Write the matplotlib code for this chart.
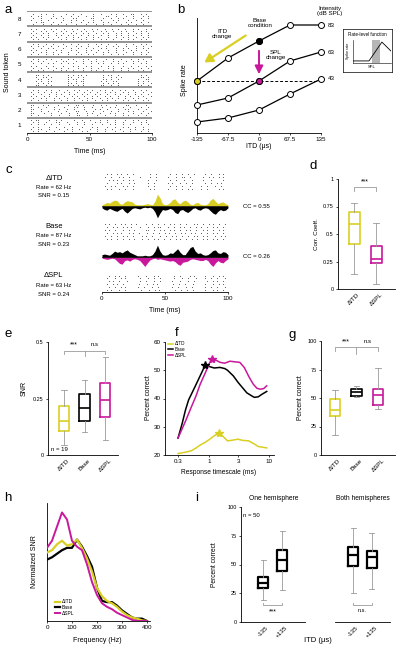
import matplotlib
matplotlib.use("Agg")
import matplotlib.pyplot as plt
import numpy as np
from matplotlib.patches import Rectangle, FancyArrowPatch

plt.rcParams['font.family'] = ['Liberation Sans', 'DejaVu Sans']
plt.rcParams['font.size'] = 4
plt.rcParams['axes.linewidth'] = 0.6
plt.rcParams['xtick.major.width'] = 0.5
plt.rcParams['ytick.major.width'] = 0.5
plt.rcParams['xtick.major.size'] = 1.5
plt.rcParams['ytick.major.size'] = 1.5
plt.rcParams['xtick.major.pad'] = 1.5
plt.rcParams['ytick.major.pad'] = 1.5

YEL = '#d9cf22'
MAG = '#c8189c'
GRAY = '#9a9a9a'
DOT = '#555555'

# ---------------- data ----------------
# a: spike rasters, one list of trials per sound token (token 1 first), '|' = spike
raster_tokens = [
    [".|.||...|..|.|....|..|..|...|..|..|...|..|.|..|..",
     "..|.|..|...||..|...|..|...|.|..|..|..|...|..|.|..",
     ".|..|.|..|..|...|..|..|..|...|..|.|..|..|...|..|.",
     "..|.|...|..|..|..|...|...|.|...|..|..|.|..|..|...",
     ".|..||..|...|..|.|..|...|..|..|..|..|...|.|..|.|.",
     "..|.|..|..|...|..|...|.|...|..|...|..|..|...|..|."],
    [".||...|.|...|...|..||.|...|..|.|...|...||..|...|..",
     ".|..|..|..|...|...||..|..|...|..|.|..|..|...|..|.",
     ".||..|....|.|..|..|...|...|.|..|...|..||...|..|..",
     ".|...|..|...|..|...||..|..|...|..|..|...|.|...|..|",
     ".||...|..|...|..|..|...|.|..|...|.|..|...|..|..|.",
     ".|..|....|..|...|..||..|...|..|...|..|.|...|..|.."],
    ["..|.|..|.|..|..|..|.|..|.|..|.|..|..|.|..|..|.|..",
     ".|..|.|..|.|..|.|..|..|.|..|..|.|.|..|.|..|..|..|",
     "..|..|..|..|.|..|.|..|.|..|.|..|..|.|..|..|.|..|.",
     ".|.|..|.|..|..|..|.|..|..|.|..|.|..|..|.|..|.|..|",
     "..|..|.|..|.|..|..|.|..|.|..|..|.|.|..|..|.|..|..",
     ".|..|..|..|..|.|..|..|.|..|..|.|..|..|.|..|..|.|."],
    ["...||.|.|.......|.|.||.|......|.||..|........|.|..",
     "...|..||.|......||..|.|.......|..|.|.|.......||.|.",
     "....||..|.......|.||..|.......||.|..|.......|..||.",
     "...|.|..||......|..|.||......|.|..||........|.|.|.",
     "....|.|.|.......||.|..|.......|.|.|.|.......|.|..|",
     "...||..|.|......|.|.|.|......||..|..|.......||..|."],
    ["..|.|..|.|...|..|.|...|.|..|...|..|..|...|..|.|..|",
     ".|..|.|....|..||...|..|..|.|..|...|.|..|..|.|..|..",
     "..|..|..|.|..|..|.|...|..|..|.|..|..|.|...|..|.|..",
     ".|.|...|..|...|...|.|..|.|...|..|.|...|..|..|..|.|",
     "..|..|..|..|.|..|...|.|..|..|...|.|..|..|.|..|..|.",
     ".|..|.|...|..|.|..|...|..|.|..|...|..|..|...|.|..|"],
    ["..|.|..|..|...|..|..|...|..|.|..|..|...|..|..|.|..",
     ".|..|.|..|..|..|...|.|..|...|..|..|.|..|...|..|..|",
     "..|..|..|.|...|..|..|..|..|..|.|...|..|.|..|..|.|.",
     ".|.|...|...|.|...|.|...|.|..|...|..|..|..|.|...|..",
     "..|..|.|..|..|..|...|..|...|..|.|..|...|..|..|..|.",
     ".|..|..|..|.|...|..|.|..|.|...|..|..|.|...|..|.|.."],
    [".|.|..|..|.|..|..|.|..|..|.|..|..|.|..|..|.|..|.|",
     "..|..|.|..|..|.|..|..|.|..|..|.|..|..|.|..|..|.|..",
     ".|.|..|.|..|..|..|.|..|.|..|..|.|..|.|..|..|.|..|.",
     "..|..|..|..|.|..|.|..|..|.|..|..|..|.|..|.|..|..|.",
     ".|.|..|.|...|..|..|.|..|..|.|...|..|..|.|..|..|.|.",
     "..|.|..|..|..|.|..|..|.|..|..|.|..|..|..|.|..|.|.."],
    ["..|..|.|..|....|..|..|....|..|...|.|..|..||..|.|..",
     ".|..||....|..|...|..|..|..|....||..|...|..|...|.|.",
     "..|..|...|.|..|...||.....||...|..|..|.|...|..|..|.",
     ".|...|..|.....|..|.|..|...|..|....|.|...|..|..|...",
     "...|.||...|..|...|...|..|.|...|.|..|...|.|...|..|.",
     "..|...|..|..|..|...|...|...|..|..|...|..|..|..|..."],
]
token_ids = [1, 2, 3, 4, 5, 6, 7, 8]

# b: schematic rate-ITD functions
itd_us = [-135, -67.5, 0, 67.5, 135]
rate_83 = [52, 75, 92, 108, 108]
rate_63 = [28, 35, 52, 72, 81]
rate_43 = [11, 15, 23, 39, 54]
level_labels = ['83', '63', '43']
rl_spl = [0.0, 0.42, 0.76, 1.0]
rl_rate = [0.09, 0.09, 0.91, 0.52]

# c: example rasters and PSTH overlays
raster_itd = ["..|.|..|.|..|..|........|..|......|..|..|..|..|.....|..|...|.|..",
              ".|..|...|.|..|.....|....|..|.....|...|..||..|......|..|.|..|.|..",
              "...|.|.|..|..|.|.......|...|......|..|...|...|.....|...|.....|..",
              "..|....|.|...|..|......|..|......|.|...|..|..|......|..|..|.|...",
              ".|..|.|...|.|..|.......|..|.......|..|..|...|.....|..|...|..|...",
              "..|.|...|..|...|........|.|......|...|..|..|.|....|..|.....|.|.."]
raster_base = [".|.|..|..|.|..|..|....|..|..|..|..|.|..|..|...|.|..|..|.|..|..|.",
               "..|..|.|..|.|.|....|...|..|.||...|..|..|.|..|..|..|..|..|.|..|..",
               ".|.|..|...|..|..|.....||..|..|.|..|.|..|..|.|..|...|.|..|..|.|..",
               "..|..|.|.|...|.|..|...|..|..|..|.|..|..|.|..|.|..|..|..|.|..|..",
               ".|..|..|..|.|..|....|.|..|...|..|..|.|..|..|..|.|..|.|...|..|.|.",
               "..|.|..|..|..|..|...|..|..|.|..|..|..|.|..|..|..|..|.|..|.|..|.."]
raster_spl = ["...|..|.|..|......|...|...|.|.......|..|....|.|.....|...|..|.|..",
              "..|...|..|.|.......|...|..|..|......|...|..|...|....|..|..|...|.",
              "...|.|..|...|......|..|...|..|.....|...|...|..|......|..|.|..|..",
              "..|..|.|..|.......|...|..|.|.......|..|..|...|.....|...|..|.|..",
              "...|..|..|.|......|..|...|..|......|..|...|..|......|..|..|...|.",
              "..|.|...|..|.......|...|..|.|.......|..|..|..|.....|...|.|..|.."]
psth_t = np.arange(0, 101, 2)
psth_itd_1 = [.10, .20, .30, .25, .40, .50, .45, .20, .15, .35, .45, .40, .35, .15, .10, .10, .10,
              .15, .20, .15, .10, .40, 1.0, .70, .20, .10, .15, .30, .55, .60, .30, .20, .40, .50,
              .35, .15, .10, .25, .30, .15, .10, .10, .20, .50, .65, .40, .20, .30, .35, .20, .10]
psth_base_1 = [.15, .30, .35, .20, .30, .40, .45, .30, .20, .45, .60, .40, .20, .15, .20, .25, .15,
               .10, .15, .10, .20, .50, 1.0, .60, .30, .35, .30, .20, .30, .55, .65, .35, .30, .45,
               .55, .40, .20, .15, .30, .35, .20, .15, .20, .40, .60, .70, .45, .30, .40, .35, .15]
psth_base_2 = [.20, .25, .20, .15, .30, .50, .40, .45, .35, .50, .60, .40, .30, .20, .10, .10, .10,
               .15, .10, .10, .20, .50, 1.0, .50, .20, .15, .20, .35, .30, .50, .70, .40, .20, .20,
               .50, .80, .90, .50, .30, .35, .20, .15, .20, .35, .55, .60, .35, .30, .45, .40, .20]
psth_spl_2 = [.10, .15, .20, .15, .10, .15, .35, .55, .60, .30, .25, .35, .20, .15, .20, .30, .55,
              .80, .50, .25, .15, .10, .20, .15, .20, .25, .30, .35, .30, .40, .60, .70, .45, .40,
              .35, .20, .15, .20, .25, .30, .30, .20, .30, .60, .80, .50, .30, .45, .50, .30, .15]
cond_names = ['\u0394ITD', 'Base', '\u0394SPL']
cond_rate = [62, 87, 63]
cond_snr = [0.15, 0.23, 0.24]
cc_values = [0.55, 0.26]

# d: correlation coefficients
d_labels = ['\u0394ITD', '\u0394SPL']
d_med = [0.59, 0.27]
d_q1 = [0.41, 0.24]
d_q3 = [0.70, 0.39]
d_lo = [0.14, 0.05]
d_hi = [0.78, 0.60]

# e: SNR
e_labels = ['\u0394ITD', 'Base', '\u0394SPL']
e_med = [0.150, 0.208, 0.243]
e_q1 = [0.106, 0.150, 0.168]
e_q3 = [0.217, 0.270, 0.318]
e_lo = [0.044, 0.100, 0.066]
e_hi = [0.288, 0.330, 0.434]

# f: percent correct vs response timescale
f_base_x = [0.3, 0.35, 0.4, 0.45, 0.5, 0.6, 0.7, 0.85, 1.0, 1.2, 1.5, 1.8, 2.0, 2.5, 3.0, 3.5,
            4.2, 5.0, 5.6, 6.5, 7.5, 9.0]
f_base_y = [26, 31, 36, 39.5, 41.5, 45, 48, 51.8, 51.3, 50.8, 51, 50.6, 50, 48, 45.7, 44, 42,
            41, 40.4, 40.6, 41.5, 42.5]
f_spl_x = [0.3, 0.4, 0.5, 0.6, 0.7, 0.85, 1.0, 1.1, 1.3, 1.5, 1.8, 2.2, 2.6, 3.2, 3.8, 4.6, 5.4,
           6.2, 7.0, 8.0, 9.0]
f_spl_y = [26, 32, 37, 41, 45, 49, 52.5, 53.9, 53.5, 52.8, 52.5, 53.2, 53, 52.8, 51, 47.5, 45,
           43.6, 43.3, 43.5, 44.5]
f_itd_x = [0.3, 0.4, 0.5, 0.6, 0.7, 0.85, 1.0, 1.2, 1.45, 1.7, 2.0, 2.5, 3.0, 3.5, 4.5, 5.5, 6.5,
           7.5, 9.0]
f_itd_y = [20.5, 21, 21.5, 22.5, 23.5, 24.5, 25.5, 26.8, 27.9, 26.5, 25, 25.3, 25.6, 25.2, 25, 24,
           23, 22.8, 22.5]
f_best = {'itd': (1.45, 27.9), 'base': (0.85, 51.8), 'spl': (1.1, 53.9)}

# g: percent correct
g_labels = ['\u0394ITD', 'Base', '\u0394SPL']
g_med = [39.5, 55, 53]
g_q1 = [34, 52, 44]
g_q3 = [49, 58, 58]
g_lo = [17.5, 51, 40]
g_hi = [57, 60.5, 76]

# h: normalized SNR spectra
h_freq = [0, 20, 40, 60, 80, 100, 120, 140, 160, 180, 200, 220, 240, 260, 280, 300, 320, 340,
          360, 380, 400]
h_itd = [0.58, 0.60, 0.65, 0.68, 0.64, 0.65, 0.69, 0.62, 0.53, 0.42, 0.28, 0.21, 0.17, 0.15,
         0.12, 0.08, 0.05, 0.03, 0.02, 0.005, 0.0]
h_base = [0.52, 0.54, 0.57, 0.60, 0.62, 0.62, 0.69, 0.63, 0.55, 0.46, 0.28, 0.17, 0.16, 0.16,
          0.13, 0.09, 0.06, 0.03, 0.02, 0.02, 0.0]
h_spl = [0.62, 0.68, 0.80, 0.92, 0.86, 0.68, 0.63, 0.60, 0.48, 0.33, 0.22, 0.15, 0.12, 0.10,
         0.07, 0.05, 0.03, 0.01, 0.0, 0.0, 0.0]

# i: one vs both hemispheres
i_labels = ['-135', '+135']
i_one_med = [34, 54]
i_one_q1 = [29.5, 44]
i_one_q3 = [39.5, 63]
i_one_lo = [19, 28]
i_one_hi = [54, 79]
i_both_med = [58, 56.5]
i_both_q1 = [49, 47]
i_both_q3 = [65, 62]
i_both_lo = [25, 29]
i_both_hi = [82, 77]

# ---------------- figure ----------------
W, H = 400, 651
fig = plt.figure(figsize=(W / 100, H / 100), dpi=100)


def px_axes(l, t, r, b):
    return fig.add_axes([l / W, 1 - b / H, (r - l) / W, (b - t) / H])


def ftext(x, y, s, **kw):
    kw.setdefault('ha', 'center')
    kw.setdefault('va', 'center')
    fig.text(x / W, 1 - y / H, s, **kw)


def clean(ax, left=True):
    ax.spines['top'].set_visible(False)
    ax.spines['right'].set_visible(False)
    if not left:
        ax.spines['left'].set_visible(False)
        ax.set_yticks([])


def draw_raster(ax, trials, y0, y1):
    n = len(trials)
    for j, s in enumerate(trials):
        y = y1 - (j + 0.5) * (y1 - y0) / n
        xs = [(i + 0.5) * 100 / len(s) for i, ch in enumerate(s) if ch == '|']
        ax.plot(xs, [y] * len(xs), ls='none', marker='s', ms=0.6, mew=0, color=DOT)


def draw_boxes(ax, med, q1, q3, lo, hi, colors, lw=1.2, width=0.5):
    for k in range(len(med)):
        st = dict(med=med[k], q1=q1[k], q3=q3[k], whislo=lo[k], whishi=hi[k], fliers=[])
        ax.bxp([st], positions=[k + 1], widths=width, showfliers=False, manage_ticks=False,
               boxprops=dict(color=colors[k], lw=lw), medianprops=dict(color=colors[k], lw=lw),
               whiskerprops=dict(color=GRAY, lw=0.6), capprops=dict(color=GRAY, lw=0.6))


def bracket(ax, x0, x1, y, dy, mid=None):
    xs = [x0, x0, x1, x1]
    ys = [y - dy, y, y, y - dy]
    ax.plot(xs, ys, color=GRAY, lw=0.6, clip_on=False)
    if mid is not None:
        ax.plot([mid, mid], [y, y - dy * 1.6], color=GRAY, lw=0.6, clip_on=False)


# panel labels
for lab, x, y in [('a', 8, 10), ('b', 181, 10), ('c', 9, 170), ('d', 313, 166), ('e', 8, 334),
                  ('f', 177, 333), ('g', 292, 335), ('h', 8, 498), ('i', 197, 498)]:
    ftext(x, y, lab, fontsize=9.5)

# ---- a ----
ax = px_axes(27, 11, 152, 133)
for k, trials in zip(token_ids, raster_tokens):
    draw_raster(ax, trials, k - 1 + 0.08, k - 0.1)
    ax.axhline(k, color='#8a8a8a', lw=1.3)
ax.set_xlim(0, 100)
ax.set_ylim(0, 8)
ax.set_xticks([0, 50, 100])
ax.set_yticks([k - 0.5 for k in token_ids])
ax.set_yticklabels([str(k) for k in token_ids], fontsize=4.5)
ax.tick_params(axis='y', length=0, pad=4)
ax.tick_params(axis='x', labelsize=4.5)
clean(ax)
ax.spines['left'].set_visible(False)
ftext(90, 152, 'Time (ms)', fontsize=5)
ftext(8, 72, 'Sound token', fontsize=5, rotation=90)

# ---- b ----
ax = px_axes(197, 18, 321, 133)
for r in (rate_83, rate_63, rate_43):
    ax.plot(itd_us, r, color='black', lw=0.9, marker='o', ms=4.3, mfc='white', mec='black',
            mew=0.7, clip_on=False, zorder=3)
ax.axhline(rate_83[0], color='black', lw=0.7, ls=(0, (3, 2)), zorder=1)
ax.plot(itd_us[0], rate_83[0], 'o', ms=4.3, mfc=YEL, mec='black', mew=0.7, clip_on=False, zorder=4)
ax.plot(itd_us[2], rate_83[2], 'o', ms=4.3, mfc='black', mec='black', mew=0.7, zorder=4)
ax.plot(itd_us[2], rate_63[2], 'o', ms=4.3, mfc=MAG, mec='black', mew=0.7, zorder=4)
for lab, r in zip(level_labels, (rate_83, rate_63, rate_43)):
    ax.annotate(lab, (itd_us[-1], r[-1]), xytext=(5, 0), textcoords='offset points',
                fontsize=4.5, va='center', annotation_clip=False)
ax.set_xlim(-135, 135)
ax.set_ylim(0, 115)
ax.set_xticks(itd_us)
ax.set_xticklabels(['-135', '-67.5', '0', '67.5', '135'], fontsize=4.5)
ax.set_yticks([])
clean(ax)
ftext(259, 147, 'ITD (\u03bcs)', fontsize=5)
ftext(185, 80, 'Spike rate', fontsize=5, rotation=90)
ftext(330, 11, 'Intensity\n(dB SPL)', fontsize=4.5, linespacing=1.2)
ftext(222, 34, 'ITD\nchange', fontsize=4.5, linespacing=1.2)
ftext(260, 23, 'Base\ncondition', fontsize=4.5, linespacing=1.2)
ftext(276, 55, 'SPL\nchange', fontsize=4.5, linespacing=1.2)
fig.add_artist(FancyArrowPatch(
    (248 / W, 1 - 34 / H), (202 / W, 1 - 64 / H), transform=fig.transFigure,
    arrowstyle='-|>,head_width=0.35,head_length=0.6', mutation_scale=8, lw=1.6, color=YEL))
fig.add_artist(FancyArrowPatch(
    (259 / W, 1 - 48 / H), (259 / W, 1 - 77 / H), transform=fig.transFigure,
    arrowstyle='-|>,head_width=0.3,head_length=0.6', mutation_scale=8, lw=1.4, color=MAG))

# inset rate-level function
axi = px_axes(343, 29, 392, 72)
axi.set_xticks([])
axi.set_yticks([])
for sp in axi.spines.values():
    sp.set_linewidth(0.5)
ftext(367.5, 35, 'Rate-level function', fontsize=3.3)
ax2 = px_axes(353, 40, 391, 63)
ax2.add_patch(Rectangle((0.5, 0), 0.21, 1, color='#b5b5b5', lw=0))
ax2.plot(rl_spl, rl_rate, color='black', lw=0.6)
ax2.set_xlim(0, 1)
ax2.set_ylim(0, 1)
ax2.set_xticks([])
ax2.set_yticks([])
clean(ax2)
for sp in ('left', 'bottom'):
    ax2.spines[sp].set_linewidth(0.4)
ftext(348, 51, 'Spike rate', fontsize=2.6, rotation=90)
ftext(372, 67, 'SPL', fontsize=3)

# ---- c ----
rasters = [raster_itd, raster_base, raster_spl]
raster_rows = [(172, 191), (222, 241), (271, 292)]
for idx, (tr, (t0, b0)) in enumerate(zip(rasters, raster_rows)):
    axr = px_axes(102, t0, 228, b0)
    draw_raster(axr, tr, 0.05, 0.95 if idx < 2 else 0.85)
    axr.set_xlim(0, 100)
    axr.set_ylim(0, 1)
    clean(axr, left=False)
    if idx < 2:
        axr.axis('off')
    else:
        axr.set_xticks([0, 50, 100])
        axr.tick_params(axis='x', labelsize=4.5)
ftext(165, 310, 'Time (ms)', fontsize=5)

wave_rows = [(193, 219), (244, 270)]
wave_pairs = [(psth_itd_1, YEL, psth_base_1, 'black'), (psth_base_2, 'black', psth_spl_2, MAG)]
for (t0, b0), (up, cu, dn, cd), cc in zip(wave_rows, wave_pairs, cc_values):
    axw = px_axes(102, t0, 228, b0)
    axw.fill_between(psth_t, 0, up, color=cu, lw=0, zorder=2)
    axw.fill_between(psth_t, 0, -np.array(dn), color=cd, lw=0, zorder=1)
    axw.axhline(0, color='black', lw=0.5)
    axw.set_xlim(0, 100)
    axw.set_ylim(-1.1, 1.1)
    axw.axis('off')
    ftext(243, (t0 + b0) / 2, 'CC = %.2f' % cc, fontsize=4.3, ha='left')

cond_y = [178, 226, 276]
for name, rate, snr, y in zip(cond_names, cond_rate, cond_snr, cond_y):
    ftext(54, y, name, fontsize=5.5)
    ftext(54, y + 9.5, 'Rate = %d Hz' % rate, fontsize=4.3)
    ftext(54, y + 18, 'SNR = %.2f' % snr, fontsize=4.3)

# ---- d ----
ax = px_axes(338, 179, 395, 289)
draw_boxes(ax, d_med, d_q1, d_q3, d_lo, d_hi, [YEL, MAG])
bracket(ax, 1, 2, 0.93, 0.035)
ax.text(1.5, 0.975, '***', ha='center', va='center', fontsize=5)
ax.set_xlim(0.27, 2.86)
ax.set_ylim(0, 1)
ax.set_yticks([0, 0.25, 0.5, 0.75, 1])
ax.set_yticklabels(['0', '0.25', '0.5', '0.75', '1'])
ax.set_xticks([1, 2])
ax.set_xticklabels(d_labels, rotation=45, ha='center', fontsize=4.5)
ax.tick_params(axis='x', length=0, pad=2)
clean(ax)
ftext(317, 234, 'Corr. Coeff.', fontsize=4.5, rotation=90)

# ---- e ----
ax = px_axes(48, 342, 118, 455)
draw_boxes(ax, e_med, e_q1, e_q3, e_lo, e_hi, [YEL, 'black', MAG])
bracket(ax, 1, 3, 0.46, 0.013, mid=2)
ax.text(1.5, 0.485, '***', ha='center', va='center', fontsize=5)
ax.text(2.5, 0.488, 'n.s', ha='center', va='center', fontsize=4.3)
ax.text(0.35, 0.025, 'n = 19', fontsize=4.3, va='center')
ax.set_xlim(0.22, 3.63)
ax.set_ylim(0, 0.5)
ax.set_yticks([0, 0.25, 0.5])
ax.set_yticklabels(['0', '0.25', '0.5'])
ax.set_xticks([1, 2, 3])
ax.set_xticklabels(e_labels, rotation=45, ha='center', fontsize=4.5)
ax.tick_params(axis='x', length=0, pad=2)
clean(ax)
ftext(24, 388, 'SNR', fontsize=5, rotation=90)

# ---- f ----
ax = px_axes(165, 342, 274, 455)
ax.plot(f_itd_x, f_itd_y, color=YEL, lw=1.1, label='\u0394ITD')
ax.plot(f_base_x, f_base_y, color='black', lw=1.1, label='Base')
ax.plot(f_spl_x, f_spl_y, color=MAG, lw=1.1, label='\u0394SPL')
for key, c in (('itd', YEL), ('base', 'black'), ('spl', MAG)):
    ax.plot(*f_best[key], marker='*', ms=6, color=c, zorder=4)
ax.set_xscale('log')
ax.set_xlim(0.182, 11.9)
ax.set_ylim(20, 60)
ax.set_xticks([0.3, 1, 3, 10])
ax.set_xticklabels(['0.3', '1', '3', '10'], fontsize=4.5)
ax.minorticks_off()
ax.set_yticks([20, 30, 40, 50, 60])
ax.tick_params(axis='y', labelsize=4.5)
leg = ax.legend(loc='upper left', bbox_to_anchor=(0.0, 1.03), frameon=False, fontsize=3.3,
                handlelength=1.2, handletextpad=0.4, labelspacing=0.15, borderaxespad=0.2)
clean(ax)
ftext(219, 472, 'Response timescale (ms)', fontsize=4.8)
ftext(149, 398, 'Percent correct', fontsize=4.8, rotation=90)

# ---- g ----
ax = px_axes(321, 341, 395, 455)
draw_boxes(ax, g_med, g_q1, g_q3, g_lo, g_hi, [YEL, 'black', MAG])
bracket(ax, 1, 3, 94.5, 3.5, mid=2)
ax.text(1.5, 99, '***', ha='center', va='center', fontsize=5)
ax.text(2.5, 99.5, 'n.s', ha='center', va='center', fontsize=4.3)
ax.set_xlim(0.35, 3.79)
ax.set_ylim(0, 100)
ax.set_yticks([0, 25, 50, 75, 100])
ax.set_xticks([1, 2, 3])
ax.set_xticklabels(g_labels, rotation=45, ha='center', fontsize=4.5)
ax.tick_params(axis='x', length=0, pad=2)
clean(ax)
ftext(300, 398, 'Percent correct', fontsize=4.8, rotation=90)

# ---- h ----
ax = px_axes(47, 503, 150, 621)
ax.plot(h_freq, h_itd, color=YEL, lw=1.6, label='\u0394ITD', zorder=3)
ax.plot(h_freq, h_base, color='black', lw=1.6, label='Base', zorder=2)
ax.plot(h_freq, h_spl, color=MAG, lw=1.4, label='\u0394SPL', zorder=4)
ax.set_xlim(0, 412)
ax.set_ylim(0, 1)
ax.set_xticks([0, 100, 200, 300, 400])
ax.tick_params(axis='x', labelsize=4.5)
clean(ax)
ax.set_yticks([])
ax.legend(loc='lower left', bbox_to_anchor=(0.05, 0.02), frameon=False, fontsize=3.5,
          handlelength=1.0, handletextpad=0.4, labelspacing=0.15, borderaxespad=0.2)
ftext(97, 640, 'Frequency (Hz)', fontsize=5)
ftext(35, 562, 'Normalized SNR', fontsize=5, rotation=90)

# ---- i ----
ax = px_axes(241, 507, 305, 622)
draw_boxes(ax, i_one_med, i_one_q1, i_one_q3, i_one_lo, i_one_hi, ['black', 'black'], lw=1.6,
           width=0.53)
bracket(ax, 1, 2, 14.8, -2)
ax.text(1.5, 9, '***', ha='center', va='center', fontsize=5)
ax.text(-0.05, 93, 'n = 50', fontsize=4.3, va='center')
ax.set_xlim(-0.16, 3.2)
ax.set_ylim(0, 100)
ax.set_yticks([0, 25, 50, 75, 100])
ax.set_xticks([1, 2])
ax.set_xticklabels(i_labels, rotation=45, ha='center', fontsize=4.5)
ax.tick_params(axis='x', length=0, pad=2)
clean(ax)
ftext(274, 498, 'One hemisphere', fontsize=4.8)
ftext(215, 565, 'Percent correct', fontsize=4.8, rotation=90)

ax = px_axes(335, 507, 390, 622)
draw_boxes(ax, i_both_med, i_both_q1, i_both_q3, i_both_lo, i_both_hi, ['black', 'black'],
           lw=1.6, width=0.53)
bracket(ax, 1, 2, 14.8, -2)
ax.text(1.5, 10, 'n.s.', ha='center', va='center', fontsize=4)
ax.set_xlim(0.05, 2.95)
ax.set_ylim(0, 100)
ax.set_xticks([1, 2])
ax.set_xticklabels(i_labels, rotation=45, ha='center', fontsize=4.5)
ax.tick_params(axis='x', length=0, pad=2)
clean(ax, left=False)
ftext(363, 498, 'Both hemispheres', fontsize=4.8)
ftext(318, 640, 'ITD (\u03bcs)', fontsize=5.5)

fig.savefig('out.png', dpi=100)
